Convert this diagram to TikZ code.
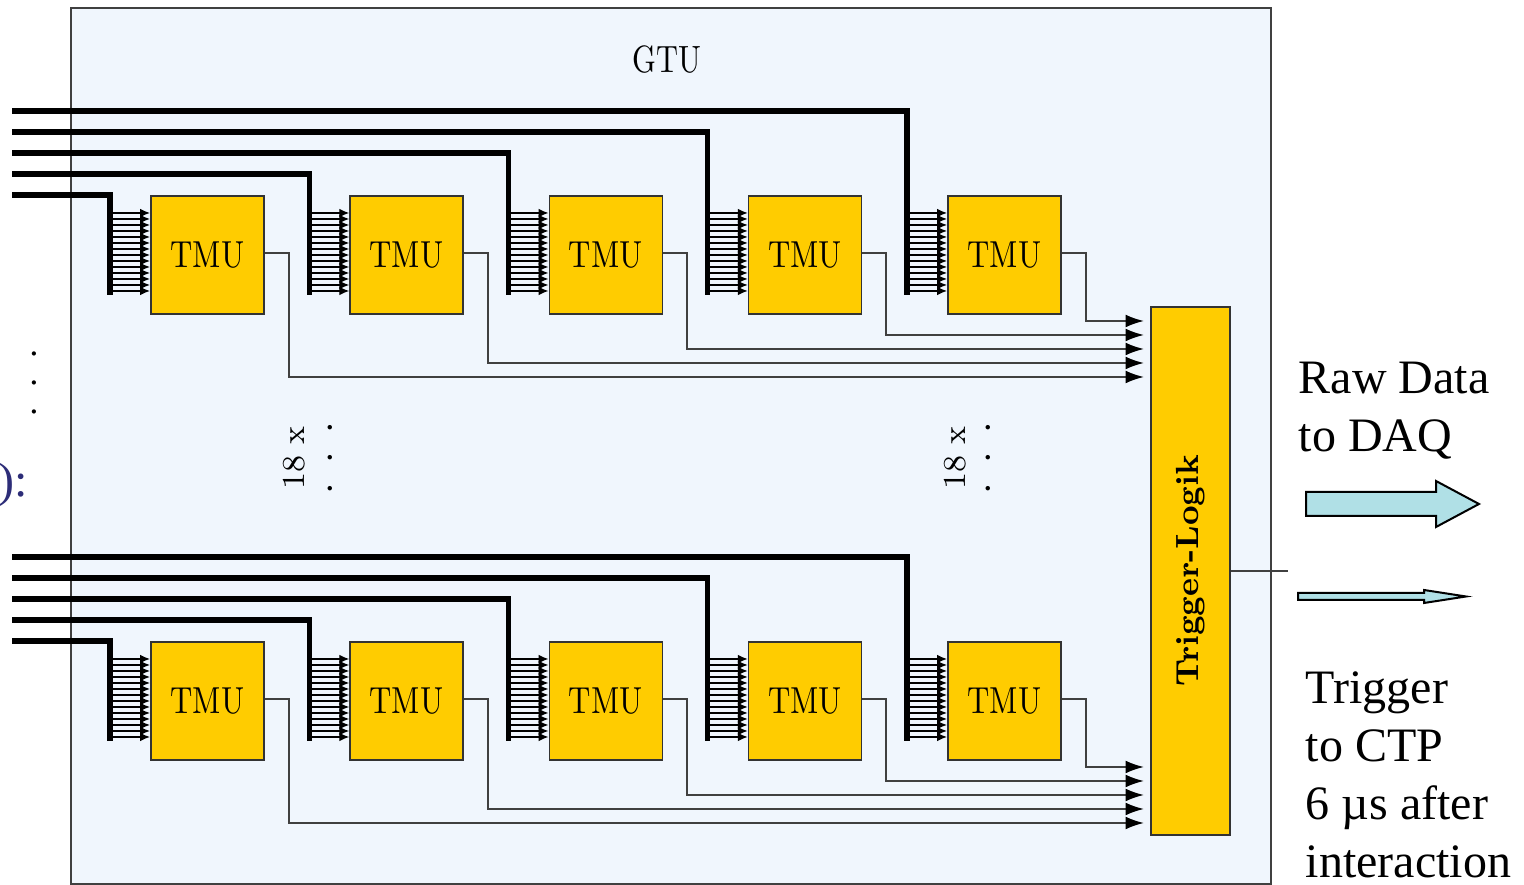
\documentclass[tikz,border=0pt]{standalone}
\usepackage{graphicx}
\usepackage{fontspec}
\newfontfamily\timesfont{Liberation Serif}
\usetikzlibrary{positioning, arrows.meta}

\definecolor{gtubg}{RGB}{240,246,253}
\definecolor{tmugold}{RGB}{255,204,0}
\definecolor{daqblue}{RGB}{176,224,230}
\definecolor{slideblue}{RGB}{45,45,120}

\newcommand{\squeeze}[1]{\scalebox{0.8}[1]{#1}}

\tikzset{
  gtubox/.style={draw=black!75, fill=gtubg, line width=0.5pt, anchor=north west,
    minimum width=300pt, minimum height=219pt, inner sep=0pt},
  tmubox/.style={draw=black!80, fill=tmugold, line width=0.4pt, anchor=north west,
    minimum width=28.25pt, minimum height=29.5pt, inner sep=0pt,
    font=\fontsize{9.4}{11}\selectfont},
  trigbox/.style={draw=black!80, fill=tmugold, line width=0.4pt,
    minimum width=19.75pt, minimum height=132pt, inner sep=0pt,
    font=\bfseries\fontsize{8}{10}\selectfont},
  busline/.style={line width=1.3pt, black},
  combline/.style={line width=0.35pt, black, -{Latex[length=2.5pt, width=2.2pt]}},
  outline/.style={line width=0.45pt, black!75},
  trigarrow/.style={outline, -{Latex[length=4.6pt, width=3.2pt, black]}},
  countlbl/.style={rotate=90, inner sep=0pt, font=\fontsize{8}{9}\selectfont},
  dotslbl/.style={rotate=90, inner sep=0pt, font=\fontsize{10.5}{11}\selectfont},
  sidetxt/.style={anchor=north west, inner sep=0pt, align=left,
    font=\timesfont\fontsize{12}{14.5}\selectfont},
  fatarrow/.style={draw=black, fill=daqblue, line width=0.5pt, line join=miter}
}

\begin{document}
\begin{tikzpicture}[x=0.25pt, y=-0.25pt]
  \useasboundingbox (0,0) rectangle (1524,885);
  \fill[white] (0,0) rectangle (1524,885);

  \node[gtubox] (gtu) at (70,7) {};
  \node[font=\fontsize{9.5}{11}\selectfont] (gtulbl) at (667,60) {\squeeze{GTU}};

  \node[trigbox] (trig) at (1190.5,571) {\rotatebox{90}{Trigger-Logik}};

  % two groups of five TMUs
  \foreach \g/\top in {up/195, dn/641} {
    \foreach \j in {0,...,4} {
      \pgfmathsetmacro\xl{150+199.25*\j}
      \pgfmathsetmacro\yin{\top-84+21*(4-\j)}
      \pgfmathsetmacro\yout{\top+182-14*\j}
      \node[tmubox] (tmu-\g-\j) at (\xl,\top) {\squeeze{TMU}};
      \coordinate (in-\g-\j) at (12,\yin);
      \coordinate (tip-\g-\j) at (1144,\yout);
      \draw[busline] (in-\g-\j) -| ([shift={(-10pt,-25pt)}]tmu-\g-\j.north west);
      \foreach \k in {0,...,13} {
        \pgfmathsetmacro\dy{-4.5-1.5*\k}
        \draw[combline] ([shift={(-10pt,\dy pt)}]tmu-\g-\j.north west)
          -- ([yshift=\dy pt]tmu-\g-\j.north west);
      }
      \draw[trigarrow] ([yshift=0.5pt]tmu-\g-\j.east) -- ++(6pt,0) |- (tip-\g-\j);
    }
  }

  \node[countlbl] (cnt-l) at (294,458) {18 x};
  \node[dotslbl] (dots-l) at (330,458) {. . .};
  \node[countlbl] (cnt-r) at (955,458) {18 x};
  \node[dotslbl] (dots-r) at (988,458) {. . .};
  \node[dotslbl, font=\fontsize{10}{11}\selectfont] (dots-in) at (34,383) {. . .};
  \node[anchor=base east, inner sep=0pt, text=slideblue,
    font=\timesfont\fontsize{12}{14}\selectfont] (slidetxt) at (29,497) {):};

  % outputs of the trigger logic
  \coordinate (trigout) at (1288,571);
  \draw[outline] (trig.east |- trigout) -- (trigout);

  \draw[fatarrow] (1306,492) -- (1436,492) -- (1436,481) -- (1479,504)
    -- (1436,527) -- (1436,516) -- (1306,516) -- cycle;
  \draw[fatarrow] (1298,593) -- (1424,593) -- (1424,590) -- (1466,596.5)
    -- (1424,603) -- (1424,600) -- (1298,600) -- cycle;

  \node[sidetxt] (rawtxt) at (1298,361) {Raw Data\\to DAQ};
  \node[sidetxt] (trgtxt) at (1305,671) {Trigger\\to CTP\\6 µs after\\interaction};
\end{tikzpicture}
\end{document}
